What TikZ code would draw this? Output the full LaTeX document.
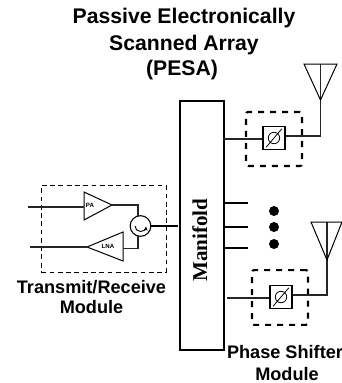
\documentclass[tikz,border=0pt]{standalone}
\usepackage{fontspec}
\usetikzlibrary{arrows.meta}
\setmainfont{Liberation Sans}
\newfontfamily\serifb{Liberation Serif}
\tikzset{
  px/.style={x=0.75pt,y=-0.75pt},
  thin line/.style={line width=0.75pt},
  wire/.style={line width=1.1pt,black!85},
  thick wire/.style={line width=2pt},
  dash box/.style={draw,line width=1.6pt,dash pattern=on 4.5pt off 4.5pt,rounded corners=1.5pt},
  tr box/.style={draw,line width=0.6pt,dash pattern=on 3.6pt off 2.6pt},
  shifter/.style={draw,line width=0.8pt,fill=white,minimum width=16.5pt,minimum height=17.5pt,inner sep=0pt},
  title lbl/.style={font=\bfseries\fontsize{15.9pt}{18pt}\selectfont,anchor=base,inner sep=0pt},
  lbl/.style={font=\bfseries\fontsize{13.6pt}{15pt}\selectfont,anchor=base,inner sep=0pt},
  tiny lbl/.style={font=\bfseries\fontsize{4.6pt}{5pt}\selectfont,inner sep=0pt},
  dot/.style={circle,fill=black,minimum size=7.5pt,inner sep=0pt}
}
\newcommand{\phisym}{%
  \tikz[baseline=-0.5ex]{\draw[line width=0.6pt] (0,0) circle (4.3pt); \draw[line width=0.6pt] (-5.8pt,-6.8pt) -- (5.8pt,6.8pt);}}
\begin{document}
\begin{tikzpicture}[px]
\useasboundingbox (0,0) rectangle (342,383);
% title
\node[title lbl] (title1) at (184,23) {Passive Electronically};
\node[title lbl] (title2) at (184,50) {Scanned Array};
\node[title lbl] (title3) at (182,75) {(PESA)};
% manifold
\node[draw,line width=1.9pt,minimum width=33pt,minimum height=187pt,inner sep=0pt,anchor=north west] (man) at (178.5,99.5) {};
\node[rotate=90,anchor=base,font=\serifb\bfseries\fontsize{15.8pt}{18pt}\selectfont,inner sep=0pt] (mantext) at (207,240) {Manifold};
% stubs
\coordinate (s1a) at (223,203); \coordinate (s1b) at (248,203);
\coordinate (s2a) at (223,227); \coordinate (s2b) at (248,227);
\coordinate (s3a) at (223,248); \coordinate (s3b) at (248,248);
\draw[thick wire] (s1a) -- (s1b);
\draw[thick wire] (s2a) -- (s2b);
\draw[thick wire] (s3a) -- (s3b);
\node[dot] (d1) at (274,211) {};
\node[dot] (d2) at (274,227) {};
\node[dot] (d3) at (274,244) {};
% top phase shifter
\node[dash box,minimum width=42pt,minimum height=40.5pt,inner sep=0pt] (dt) at (274,139) {};
\node[shifter] (pt) at (274,138) {\phisym};
\coordinate (mt) at (223,139);
\coordinate (at) at (320.5,136);
\coordinate (att) at (320.5,64);
\coordinate (atl) at (304,64); \coordinate (atr) at (337,64); \coordinate (ata) at (320.5,100);
\draw[wire] (mt) -- (pt.west |- mt);
\draw[wire] (pt.east |- at) -- (at) -- (att);
\draw[thin line] (atl) -- (atr) -- (ata) -- cycle;
% bottom phase shifter
\node[dash box,minimum width=42pt,minimum height=41pt,inner sep=0pt] (db) at (280,297.5) {};
\node[shifter] (pb) at (281,297) {\phisym};
\coordinate (mb) at (227,298);
\coordinate (ab) at (327,295);
\coordinate (abt) at (327,222);
\coordinate (abl) at (311,222); \coordinate (abr) at (342,222); \coordinate (aba) at (327,260);
\draw[wire] (mb) -- (pb.west |- mb);
\draw[wire] (pb.east |- ab) -- (ab) -- (abt);
\draw[thin line] (abl) -- (abr) -- (aba) -- cycle;
% T/R module
\node[tr box,minimum width=93.5pt,minimum height=65pt,inner sep=0pt,anchor=north west] (tr) at (41,185) {};
\coordinate (paw) at (84,207); \coordinate (pn) at (84,192); \coordinate (ps) at (84,220); \coordinate (pa) at (112,205);
\draw[thin line] (pn) -- (pa) -- (ps) -- cycle;
\node[tiny lbl] (palbl) at (90,205) {PA};
\coordinate (lna) at (87,247); \coordinate (ln) at (123,232); \coordinate (ls) at (123,261);
\draw[thin line] (lna) -- (ln) -- (ls) -- cycle;
\node[tiny lbl] (lnalbl) at (108,246) {LNA};
\node[circle,draw,line width=0.8pt,minimum size=15.5pt,inner sep=0pt] (circ) at (140.5,226) {};
\draw[line width=0.7pt,-{Stealth[length=3.2pt,width=3pt]}] (135,226) arc[start angle=180,end angle=5,radius=5.5];
\coordinate (c1) at (28,207); \coordinate (c2) at (30,247);
\coordinate (ct) at (138,216); \coordinate (cb) at (138,236); \coordinate (lo) at (123,248.5);
\draw[wire] (c1) -- (paw);
\draw[wire] (c2) -- (lna);
\draw[wire] (pa) -| (ct);
\draw[wire] (lo) -| (cb);
\coordinate (mw) at (178,226);
\draw[thick wire] (circ.east) -- (mw);
% labels
\node[lbl] (trl1) at (91.5,293) {Transmit/Receive};
\node[lbl] (trl2) at (91.5,313) {Module};
\node[lbl] (psl1) at (285,358) {Phase Shifter};
\node[lbl] (psl2) at (287,380) {Module};
\end{tikzpicture}
\end{document}
